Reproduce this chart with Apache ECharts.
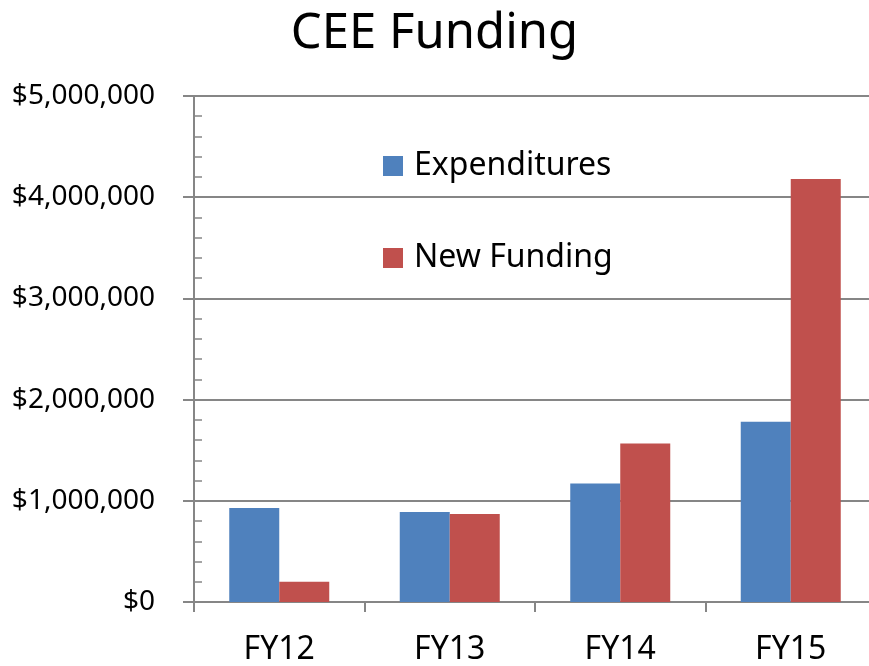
<!DOCTYPE html>
<html>
<head>
<meta charset="utf-8">
<script src="https://cdn.jsdelivr.net/npm/echarts@6/dist/echarts.min.js"></script>
<style>
  html, body { margin: 0; padding: 0; background: #fff; }
  #chart { width: 869px; height: 666px; }
</style>
</head>
<body>
<div id="chart"></div>
<script>
const categories = ['FY12', 'FY13', 'FY14', 'FY15'];
const expenditures = [930000, 890000, 1170000, 1780000];
const newFunding = [200000, 870000, 1565000, 4180000];
const seriesNames = ['Expenditures', 'New Funding'];

const axisGray = '#868686';
const fontFamily = '"Noto Sans", "Open Sans", sans-serif';

const money = v => '$' + v.toLocaleString('en-US');

const chart = echarts.init(document.getElementById('chart'));
chart.setOption({
  backgroundColor: '#fff',
  animation: false,
  textStyle: { fontFamily: fontFamily, color: '#000' },
  title: {
    text: 'CEE Funding',
    left: 'center',
    top: 5,
    textStyle: { fontSize: 49, fontWeight: 'normal', color: '#000', fontFamily: fontFamily }
  },
  legend: {
    orient: 'vertical',
    left: 378,
    top: 145,
    itemWidth: 20,
    itemHeight: 20,
    itemGap: 60,
    icon: 'rect',
    textStyle: { fontSize: 32, color: '#000', padding: [0, 0, 0, 6], fontFamily: fontFamily },
    data: seriesNames
  },
  grid: { left: 194, top: 96, bottom: 64, width: 682, containLabel: false, outerBoundsMode: 'none' },
  xAxis: {
    type: 'category',
    data: categories,
    axisLine: { lineStyle: { color: axisGray, width: 2 } },
    axisTick: { show: true, length: 10, lineStyle: { color: axisGray, width: 2 } },
    axisLabel: { fontSize: 32, color: '#000', margin: 32, fontFamily: fontFamily }
  },
  yAxis: [
    {
      type: 'value',
      min: 0,
      max: 5000000,
      interval: 1000000,
      axisLine: { show: true, lineStyle: { color: axisGray, width: 2 } },
      axisTick: { show: true, length: 11, lineStyle: { color: axisGray, width: 2 } },
      splitLine: { show: true, lineStyle: { color: axisGray, width: 2 } },
      axisLabel: { fontSize: 28, color: '#000', margin: 39, formatter: money, fontFamily: fontFamily }
    },
    {
      type: 'value',
      position: 'left',
      min: 0,
      max: 5000000,
      interval: 200000,
      axisLine: { show: false },
      axisTick: { show: true, inside: true, length: 8, lineStyle: { color: axisGray, width: 1.5 } },
      splitLine: { show: false },
      axisLabel: { show: false }
    }
  ],
  series: [
    {
      name: seriesNames[0],
      type: 'bar',
      data: expenditures,
      barWidth: 50,
      barGap: '0%',
      itemStyle: { color: '#4F81BD' }
    },
    {
      name: seriesNames[1],
      type: 'bar',
      data: newFunding,
      barWidth: 50,
      barGap: '0%',
      itemStyle: { color: '#C0504D' }
    }
  ]
});
</script>
</body>
</html>
